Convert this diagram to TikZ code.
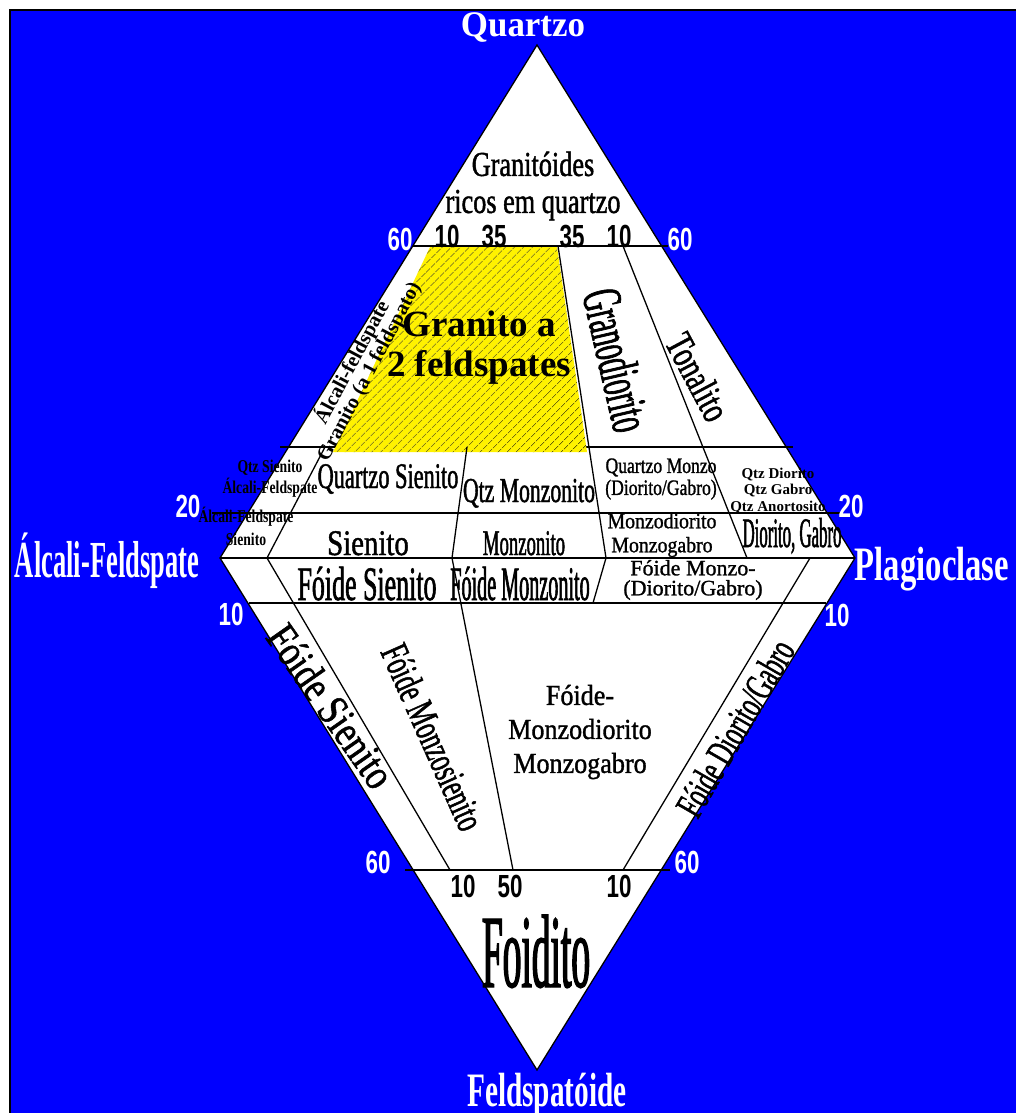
\documentclass[tikz,border=0pt]{standalone}
\usepackage{fontspec}
\setmainfont{Liberation Serif}
\newfontfamily\numfont{Liberation Sans}
\usetikzlibrary{patterns.meta}

\begin{document}
\begin{tikzpicture}[x=1pt, y=-1pt, line width=1.3pt,
    every node/.style={inner sep=0pt},
    apex/.style 2 args={text=white, anchor=base, font={\bfseries\lblfont{#1}{#1}{#2}}},
    val/.style={anchor=base, font={\numfont\bfseries\lblfont{32}{32}{0.7}}},
    rock/.style n args={3}{align=center,
      font={\lblfont{#1}{#2}{#3}\addfontfeature{FakeBold=1.2}}},
    rockbf/.style n args={3}{align=center, font={\bfseries\lblfont{#1}{#2}{#3}}}]
  \def\lblfont#1#2#3{\fontsize{#1}{#2}\selectfont\addfontfeature{FakeStretch=#3}}

  \useasboundingbox (0,0) rectangle (1016,1113);
  \fill[white] (0,0) rectangle (1016,1113);
  \fill[blue] (9,9) rectangle (1016,1113);
  \draw[line width=2.4pt] (1016,10) -- (10,10) -- (10,1113);

  \coordinate (Q) at (537,45);
  \coordinate (A) at (220,558);
  \coordinate (P) at (855,558);
  \coordinate (F) at (537,1070);

  % points of the ratio lines on A--P
  \coordinate (r10) at (267,558);
  \coordinate (r35) at (452,558);
  \coordinate (r65) at (606,558);
  \coordinate (r90) at (747,558);
  \coordinate (s90) at (810,558);

  \fill[white] (Q) -- (P) -- (F) -- (A) -- cycle;

  % horizontal lines
  \draw (413,246) -- (668,246);
  \draw (280,447) -- (793,447);
  \draw (212,513) -- (840,513);
  \draw (A) -- (P);
  \draw (249,603) -- (826,603);
  \draw (405,870) -- (670,870);

  % Granito a 2 feldspates field
  \fill[yellow] (430,247) -- (557,247) -- (587,452) -- (333,452) -- cycle;
  \fill[pattern={Lines[angle=45,distance=6.5pt,line width=0.7pt]}]
      (430,247) -- (557,247) -- (587,452) -- (333,452) -- cycle;

  % ratio lines
  \draw (r10) -- (325,447);
  \draw (r35) -- (467,447);
  \draw (r65) -- (558,246);
  \draw (r90) -- (623,246);
  \draw (r10) -- (450,870);
  \draw (r35) -- (513,870);
  \draw (r65) -- (593,603);
  \draw (s90) -- (623,870);

  \draw (Q) -- (P) -- (F) -- (A) -- cycle;

  % corner names
  \node[apex={36}{0.97}] (lq) at (523,37) {Quartzo};
  \node[apex={52}{0.51}] (la) at (107,577) {Álcali-Feldspate};
  \node[apex={48}{0.68}] (lp) at (932,580) {Plagioclase};
  \node[apex={48}{0.61}] (lf) at (547,1106) {Feldspatóide};

  % scale values
  \foreach \x/\y/\t [count=\i] in {400/250/60, 680/250/60, 188/517/20, 851/517/20,
      231/625/10, 837/626/10, 378/873/60, 687/873/60}
    \node[val, text=white] (w\i) at (\x,\y) {\t};
  \foreach \x/\y/\t [count=\i] in {447/247/10, 494/247/35, 572/247/35, 619/247/10,
      463/897/10, 510/897/50, 619/897/10}
    \node[val] (k\i) at (\x,\y) {\t};

  % fields
  \node[rock={35}{37}{0.75}] (gr) at (533,186) {Granitóides\\ricos em quartzo};
  \node[rockbf={37}{40}{1}] (g2) at (479,348) {Granito a\\2 feldspates};
  \node[rockbf={20.5}{19}{1}, rotate=62] (afg) at (360,367)
      {Álcali-feldspate\\Granito (a 1 feldspato)};
  \node[rock={56}{56}{0.5}, rotate=-77] (gd) at (617,360) {Granodiorito};
  \node[rock={40}{40}{0.7}, rotate=-62] (tn) at (698,377) {Tonalito};

  \node[rockbf={18}{21}{0.76}] (qas) at (270,479) {Qtz Sienito\\Álcali-Feldspate};
  \node[rock={36}{36}{0.62}, anchor=base] (qs) at (388,488) {Quartzo Sienito};
  \node[rock={35}{35}{0.62}, anchor=base] (qm) at (529,502) {Qtz Monzonito};
  \node[rock={22}{22}{0.8}] (qmd) at (661,479) {Quartzo Monzo\\(Diorito/Gabro)};
  \node[rockbf={15}{16.5}{1}] (qd) at (778,491) {Qtz Diorito\\Qtz Gabro\\Qtz Anortosito};

  \node[rockbf={18}{23}{0.76}] (as) at (246,526) {Álcali-Feldspate\\Sienito};
  \node[rock={36}{36}{0.8}, anchor=base] (si) at (368,555) {Sienito};
  \node[rock={36}{36}{0.52}, anchor=base] (mz) at (524,555) {Monzonito};
  \node[rock={22}{24}{0.9}] (md) at (662,535) {Monzodiorito\\Monzogabro};
  \node[rock={42}{42}{0.4}, anchor=base] (dg) at (792,547) {Diorito, Gabro};

  \node[rock={48}{48}{0.54}, anchor=base] (fs) at (367,600) {Fóide Sienito};
  \node[rock={48}{48}{0.42}, anchor=base] (fm) at (520,600) {Fóide Monzonito};
  \node[rock={22}{20}{1}] (fmd) at (693,580) {Fóide Monzo-\\(Diorito/Gabro)};

  \node[rock={44}{44}{0.8}, rotate=-55] (fs2) at (331,706) {Fóide Sienito};
  \node[rock={40}{40}{0.62}, rotate=-66] (fms) at (433,737) {Fóide Monzosienito};
  \node[rock={29}{34}{0.9}] (fmg) at (580,732) {Fóide-\\Monzodiorito\\Monzogabro};
  \node[rock={40}{40}{0.6}, rotate=60] (fdg) at (735,728) {Fóide Diorito/Gabro};
  \node[rock={104}{104}{0.36}, anchor=base] (fo) at (536,987) {Foidito};
\end{tikzpicture}
\end{document}
